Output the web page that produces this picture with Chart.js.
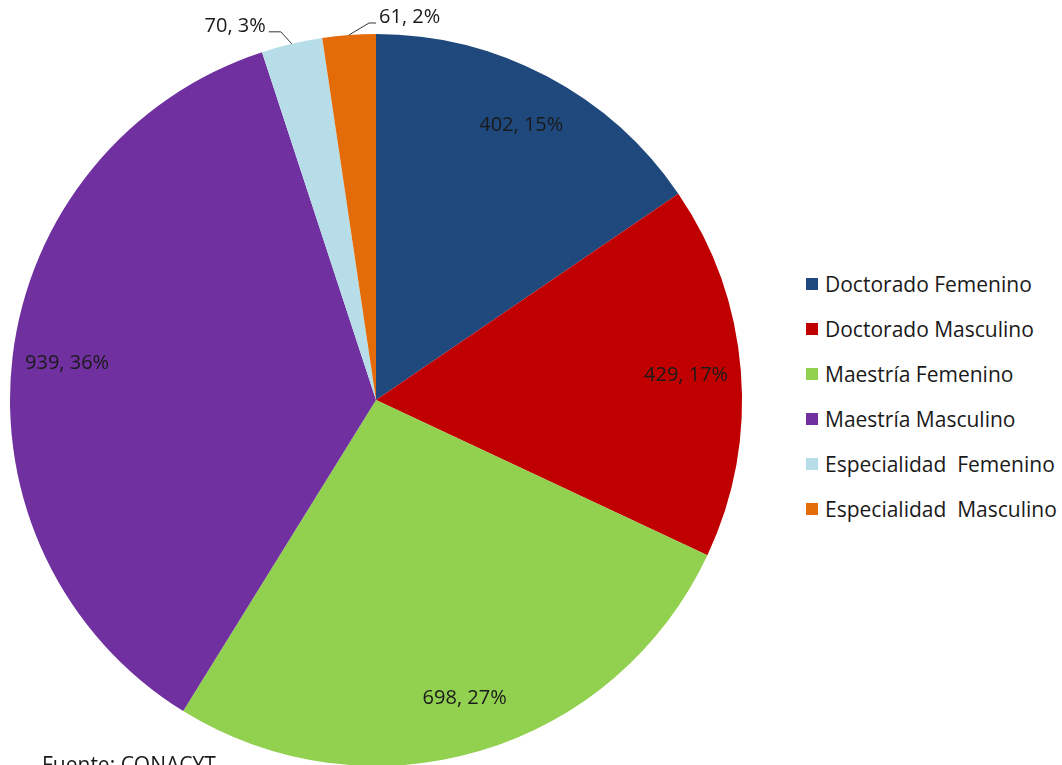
<!DOCTYPE html>
<html lang="es">
<head>
<meta charset="UTF-8">
<title>Posgrado por sexo</title>
<script src="https://cdn.jsdelivr.net/npm/chart.js"></script>
<style>
  html, body { margin: 0; padding: 0; background: #fff; }
  body { width: 1062px; height: 765px; overflow: hidden; position: relative; font-family: "Open Sans", Lato, sans-serif; }
  #pieBox { position: absolute; left: 0; top: 0; width: 752px; height: 800px; }
  #legend { position: absolute; left: 806px; top: 261px; }
  .leg-item { display: flex; align-items: center; height: 45px; font-size: 21px; color: #1a1a1a; white-space: pre; }
  .leg-box { width: 12px; height: 12px; margin-right: 7px; }
  #source { position: absolute; left: 42px; top: 750px; font-size: 21px; color: #1a1a1a; }
</style>
</head>
<body>
<div id="pieBox"><canvas id="pie"></canvas></div>
<div id="legend"></div>
<div id="source">Fuente: CONACYT</div>

<script>
const categories = ['Doctorado Femenino', 'Doctorado Masculino', 'Maestría Femenino', 'Maestría Masculino', 'Especialidad  Femenino', 'Especialidad  Masculino'];
const values = [402, 429, 698, 939, 70, 61];
const colors = ['#1F497D', '#C00000', '#92D050', '#7030A0', '#B7DEE8', '#E36C09'];

const total = values.reduce((a, b) => a + b, 0);

// data labels: inside for big slices, with leader line for the small ones
const labelPlugin = {
  id: 'sliceLabels',
  afterDatasetsDraw(chart) {
    const ctx = chart.ctx;
    const arcs = chart.getDatasetMeta(0).data;
    ctx.save();
    ctx.font = '20px "Open Sans", Lato, sans-serif';
    ctx.fillStyle = '#1a1a1a';
    ctx.strokeStyle = '#333';
    ctx.lineWidth = 1;
    ctx.textBaseline = 'middle';
    arcs.forEach((arc, i) => {
      const text = values[i] + ', ' + Math.round(values[i] / total * 100) + '%';
      const mid = (arc.startAngle + arc.endAngle) / 2;
      const cos = Math.cos(mid), sin = Math.sin(mid);
      if (values[i] / total > 0.05) {
        const r = arc.outerRadius * 0.85;
        ctx.textAlign = 'center';
        ctx.fillText(text, arc.x + cos * r, arc.y + sin * r);
      } else {
        const ex = arc.x + cos * arc.outerRadius;
        const ey = arc.y + sin * arc.outerRadius;
        const dir = cos < -0.15 ? -1 : 1;
        const bx = ex + dir * (dir < 0 ? 11 : 20), by = ey - 12;
        const hx = bx + dir * (dir < 0 ? 12 : 7);
        ctx.beginPath();
        ctx.moveTo(ex, ey);
        ctx.lineTo(bx, by);
        ctx.lineTo(hx, by);
        ctx.stroke();
        ctx.textAlign = dir < 0 ? 'right' : 'left';
        ctx.fillText(text, hx + dir * 3, by - 6);
      }
    });
    ctx.restore();
  }
};

new Chart(document.getElementById('pie'), {
  type: 'pie',
  data: {
    labels: categories,
    datasets: [{
      data: values,
      backgroundColor: colors,
      borderWidth: 0
    }]
  },
  options: {
    responsive: true,
    maintainAspectRatio: false,
    animation: false,
    layout: { padding: { top: 34, bottom: 34, left: 10, right: 10 } },
    plugins: {
      legend: { display: false },
      tooltip: { enabled: false }
    }
  },
  plugins: [labelPlugin]
});

// legend
const legend = document.getElementById('legend');
categories.forEach((name, i) => {
  const row = document.createElement('div');
  row.className = 'leg-item';
  const box = document.createElement('span');
  box.className = 'leg-box';
  box.style.background = colors[i];
  const txt = document.createElement('span');
  txt.textContent = name;
  row.appendChild(box);
  row.appendChild(txt);
  legend.appendChild(row);
});
</script>
</body>
</html>
